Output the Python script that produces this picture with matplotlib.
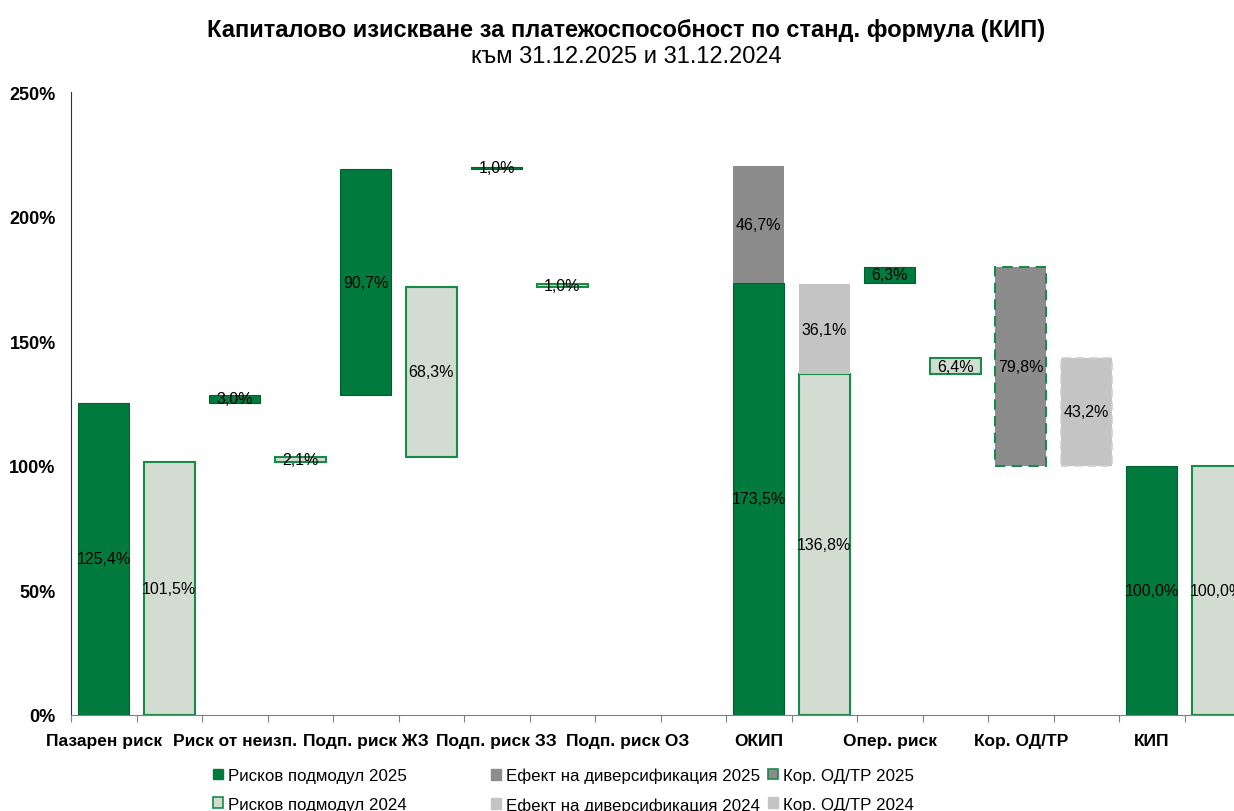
import matplotlib.pyplot as plt
from matplotlib.patches import Patch
from matplotlib.ticker import FuncFormatter

plt.rcParams['font.family'] = ['Liberation Sans', 'DejaVu Sans']

# Categories of the waterfall (each one holds a 2025 and a 2024 slot)
categories = ['Пазарен риск', 'Риск от неизп.', 'Подп. риск ЖЗ', 'Подп. риск ЗЗ',
              'Подп. риск ОЗ', 'ОКИП', 'Опер. риск', 'Кор. ОД/ТР', 'КИП']

# Risk submodules (in % of the SCR); None where the category has no submodule bar
sub_2025 = [125.4, 3.0, 90.7, 1.0, 0.0, 173.5, 6.3, None, 100.0]
sub_2024 = [101.5, 2.1, 68.3, 1.0, 0.0, 136.8, 6.4, None, 100.0]

# Diversification effect on the BSCR
div_2025 = 46.7
div_2024 = 36.1

# Adjustment for loss-absorbing capacity of TP / DT
adj_2025 = 79.8
adj_2024 = 43.2

legend_labels = ['Рисков подмодул 2025', 'Рисков подмодул 2024',
                 'Ефект на диверсификация 2025', 'Ефект на диверсификация 2024',
                 'Кор. ОД/ТР 2025', 'Кор. ОД/ТР 2024']

GREEN = '#007a3d'
GREEN_EDGE = '#1a8a48'
LIGHT = '#d2dcd1'
DARK_GREY = '#8c8c8c'
LIGHT_GREY = '#c4c4c4'


def waterfall_bottoms(sub):
    '''Base of every submodule bar: the first five stack up, the rest start from the BSCR / zero.'''
    bottoms = []
    running = 0.0
    for i in range(5):
        bottoms.append(running)
        running += sub[i]
    bottoms += [0.0, sub[5], None, 0.0]
    return bottoms


def pct(v):
    return f'{v:.1f}%'.replace('.', ',')


fig = plt.figure(figsize=(12.34, 8.12), dpi=100)
ax = fig.add_axes([71 / 1234, 1 - 716 / 812, 1179 / 1234, 623 / 812])

width = 0.78
label_size = 11.5


def draw_year(sub, div, adj, offset, sub_style, div_color, adj_style):
    bottoms = waterfall_bottoms(sub)
    xs, hs, bs = [], [], []
    for i, (v, b) in enumerate(zip(sub, bottoms)):
        if v:
            xs.append(2 * i + offset)
            hs.append(v)
            bs.append(b)
    ax.bar(xs, hs, bottom=bs, width=width, **sub_style)
    for x, h, b in zip(xs, hs, bs):
        ax.text(x, b + h / 2, pct(h), ha='center', va='center', fontsize=label_size)

    # diversification sits on top of the BSCR bar
    x_div = 2 * categories.index('ОКИП') + offset
    ax.bar(x_div, div, bottom=sub[5], width=width, color=div_color, linewidth=0)
    ax.text(x_div, sub[5] + div / 2, pct(div), ha='center', va='center', fontsize=label_size)

    # adjustment links SCR back up to BSCR + operational risk
    x_adj = 2 * categories.index('Кор. ОД/ТР') + offset
    ax.bar(x_adj, adj, bottom=sub[8], width=width, **adj_style)
    ax.text(x_adj, sub[8] + adj / 2, pct(adj), ha='center', va='center', fontsize=label_size)


draw_year(sub_2025, div_2025, adj_2025, 0,
          dict(color=GREEN, edgecolor='#006030', linewidth=0.8),
          DARK_GREY,
          dict(color=DARK_GREY, edgecolor=GREEN_EDGE, linewidth=1.5, linestyle=(0, (5, 3))))
draw_year(sub_2024, div_2024, adj_2024, 1,
          dict(color=LIGHT, edgecolor=GREEN_EDGE, linewidth=1.5),
          LIGHT_GREY,
          dict(color=LIGHT_GREY, edgecolor='#cfcfcf', linewidth=1.2, linestyle=(0, (5, 3))))

# axes
ax.set_xlim(-0.5, 2 * len(categories) - 0.5)
ax.set_ylim(0, 250)
ax.set_yticks(range(0, 251, 50))
ax.yaxis.set_major_formatter(FuncFormatter(lambda v, _: f'{v:.0f}%'))
ax.tick_params(axis='y', length=0, pad=11, labelsize=13)
for lab in ax.get_yticklabels():
    lab.set_fontweight('bold')

ax.set_xticks([i - 0.5 for i in range(2 * len(categories) + 1)])
ax.set_xticklabels([])
ax.set_xticks([2 * i for i in range(len(categories))], minor=True)
ax.set_xticklabels(categories, minor=True, fontsize=12.5, fontweight='bold')
ax.tick_params(axis='x', which='major', length=5, color='#808080', direction='out')
ax.tick_params(axis='x', which='minor', length=0, pad=13)

for side in ('top', 'right'):
    ax.spines[side].set_visible(False)
ax.spines['left'].set_color('#333333')
ax.spines['bottom'].set_color('#808080')

# title
fig.text(626 / 1234, 1 - 30 / 812, 'Капиталово изискване за платежоспособност по станд. формула (КИП)',
         ha='center', va='center', fontsize=17, fontweight='bold')
fig.text(626 / 1234, 1 - 57 / 812, 'към 31.12.2025 и 31.12.2024',
         ha='center', va='center', fontsize=17)

# legend, three columns
handles = [Patch(facecolor=GREEN, edgecolor=GREEN),
           Patch(facecolor=LIGHT, edgecolor=GREEN_EDGE, linewidth=1.2),
           Patch(facecolor=DARK_GREY, edgecolor=DARK_GREY),
           Patch(facecolor=LIGHT_GREY, edgecolor=LIGHT_GREY),
           Patch(facecolor=DARK_GREY, edgecolor=GREEN_EDGE, linewidth=1.2),
           Patch(facecolor=LIGHT_GREY, edgecolor=LIGHT_GREY)]
col_x = [213, 491, 768]
for c in range(3):
    fig.legend(handles[2 * c:2 * c + 2], legend_labels[2 * c:2 * c + 2],
               loc='upper left', bbox_to_anchor=(col_x[c] / 1234, 1 - 769 / 812),
               frameon=False, fontsize=12.2, handlelength=0.6, handleheight=0.6,
               handletextpad=0.3, labelspacing=0.8, borderpad=0, borderaxespad=0)

fig.savefig('out.png', dpi=100)
